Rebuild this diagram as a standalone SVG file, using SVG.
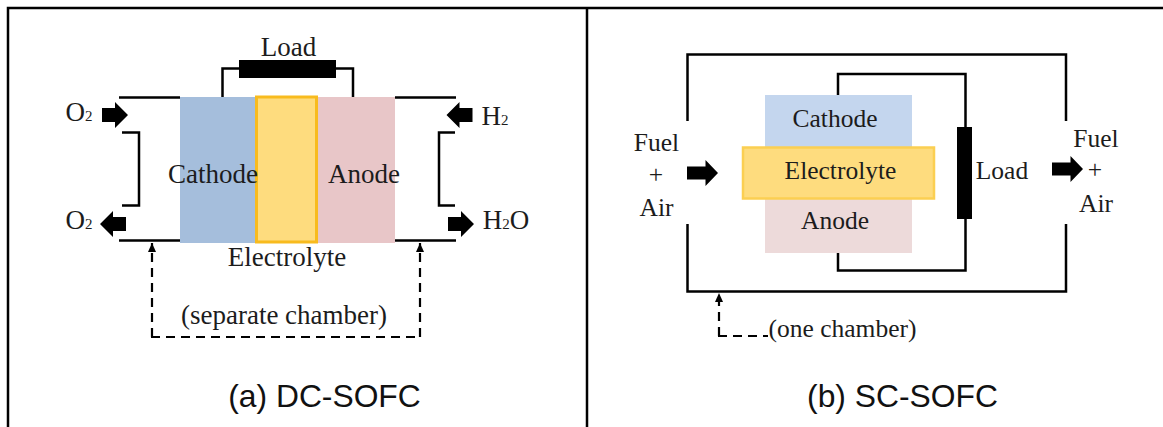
<svg xmlns="http://www.w3.org/2000/svg" width="1163" height="427" viewBox="0 0 1163 427">
<style>
.l{fill:none;stroke:#000;stroke-width:2.5}
.d{fill:none;stroke:#000;stroke-width:2.2;stroke-dasharray:9 6}
.t{font-family:"Liberation Serif",serif;font-size:27px;fill:#1c1c1c;text-anchor:middle}
.m{font-size:25.5px}
.s{font-size:15px}
.c{font-family:"Liberation Sans",sans-serif;font-size:31.8px;fill:#111;text-anchor:middle}
</style>
<defs>
<marker id="h" markerWidth="9" markerHeight="9" refX="9" refY="4.5" orient="auto" markerUnits="userSpaceOnUse" viewBox="0 0 9 9"><path d="M9 4.500L0 0.500V8.500z"/></marker>
<path id="ar" d="M-13 -7H0V-13L13 0L0 13V7H-13z" fill="#000"/>
<path id="br" d="M-15.500 -6.500H3V-13L15.500 0L3 13V6.500H-15.500z" fill="#000"/>
</defs>
<rect width="1163" height="427" fill="#fff"/>
<g id="frame" fill="none" stroke="#000" stroke-width="2.500"><path d="M8 427V8H1163M587 8V427"/></g>
<g id="a-cathode"><rect x="180" y="97" width="76" height="146" fill="#a5bedc"/></g>
<g id="a-anode"><rect x="317" y="97" width="78" height="146" fill="#e8c6c8"/></g>
<g id="a-electrolyte"><rect x="256.500" y="97" width="60" height="145" fill="#fedc7e" stroke="#f8bb1e" stroke-width="3"/></g>
<g id="a-load"><rect x="239" y="60" width="97" height="18" fill="#000"/></g>
<g id="b-cathode"><rect x="765" y="95" width="147" height="60" fill="#c4d6ee"/></g>
<g id="b-anode"><rect x="765" y="198" width="147" height="55" fill="#eddada"/></g>
<g id="b-electrolyte"><rect x="743" y="147.500" width="191" height="51" fill="#fedc7e" stroke="#fbcf52" stroke-width="2.500"/></g>
<g id="b-load"><rect x="957" y="127" width="15" height="92" fill="#000"/></g>
<g id="connectors">
<path class="l" d="M119 97.500H180M395 97.500H456M119 240.500H180M395 240.500H456"/>
<path class="l" d="M222.500 97V68.500H239M336 68.500H353V97"/>
<path class="l" d="M122 132.500H139V205.500H122M455 132.500H439V205.500H455"/>
<path class="d" d="M152 337V243" marker-end="url(#h)"/>
<path class="d" d="M420 337V243" marker-end="url(#h)"/>
<path class="d" d="M151 337H421"/>
<path class="l" d="M687.500 121V54.500H1066V121M687.500 224V291.500H1066V224"/>
<path class="l" d="M838 95V74H965.500V127M965.500 219V270.500H838V253"/>
<path class="d" d="M719 336V293" marker-end="url(#h)"/>
<path class="d" d="M718 336H768"/>
<use href="#ar" transform="translate(115 115)"/>
<use href="#ar" transform="translate(113 224) rotate(180)"/>
<use href="#ar" transform="translate(459.500 115) rotate(180)"/>
<use href="#ar" transform="translate(461 224)"/>
<use href="#br" transform="translate(702.500 173)"/>
<use href="#br" transform="translate(1067.500 169)"/>
</g>
<g id="labels">
<text class="t" x="288.500" y="56">Load</text>
<text class="t" x="213" y="183">Cathode</text>
<text class="t" x="364" y="183">Anode</text>
<text class="t" x="287" y="266">Electrolyte</text>
<text class="t" x="284" y="324">(separate chamber)</text>
<text class="t" x="79" y="121">O<tspan class="s">2</tspan></text>
<text class="t" x="79" y="229">O<tspan class="s">2</tspan></text>
<text class="t" x="495" y="125">H<tspan class="s">2</tspan></text>
<text class="t" x="506" y="229">H<tspan class="s">2</tspan>O</text>
<text class="t m" x="835" y="127">Cathode</text>
<text class="t m" x="840.500" y="179">Electrolyte</text>
<text class="t m" x="835" y="229">Anode</text>
<text class="t m" x="1002" y="179">Load</text>
<text class="t m" x="656.500" y="151">Fuel</text>
<text class="t m" x="656" y="183">+</text>
<text class="t m" x="656.500" y="216">Air</text>
<text class="t m" x="1096" y="147">Fuel</text>
<text class="t m" x="1095" y="178">+</text>
<text class="t m" x="1096" y="212">Air</text>
<text class="t m" x="842.500" y="337">(one chamber)</text>
<text class="c" x="324.500" y="407">(a) DC-SOFC</text>
<text class="c" x="902.500" y="407">(b) SC-SOFC</text>
</g>
</svg>
